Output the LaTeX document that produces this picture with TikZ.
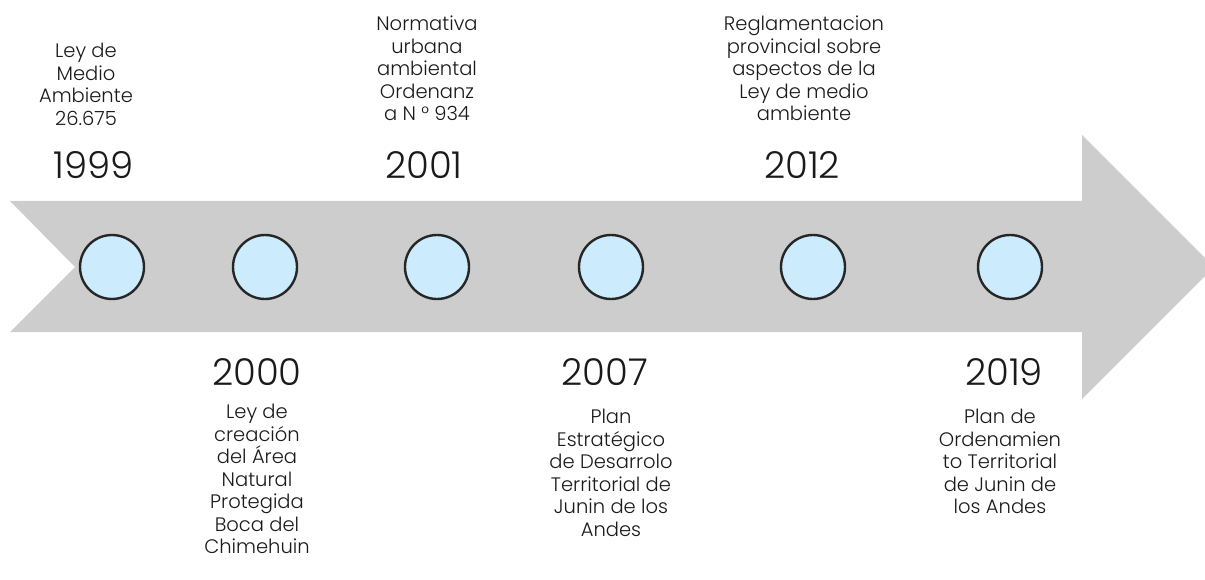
\documentclass[tikz,border=0pt]{standalone}
\usepackage{fontspec}
\setmainfont{Poppins Light}
\definecolor{arrowgray}{HTML}{CDCDCD}
\definecolor{dotfill}{HTML}{CCEBFD}
\definecolor{dotline}{HTML}{262626}
\definecolor{txt}{HTML}{1A1A1A}
\begin{document}
\begin{tikzpicture}[x=1pt,y=-1pt,
  dot/.style={circle,draw=dotline,fill=dotfill,line width=2.4pt,minimum size=64pt,inner sep=0pt},
  desc/.style={align=center,inner sep=0pt,text=txt,font=\fontsize{19.5}{22.5}\selectfont},
  year/.style={inner sep=0pt,text=txt,font=\fontsize{37}{40}\selectfont}]
\useasboundingbox (0,0) rectangle (1205,580);
\begin{scope}
\clip (0,0) rectangle (1205,580);
\fill[arrowgray] (10,201) -- (1082,201) -- (1082,135) -- (1214,267) -- (1082,399) -- (1082,332) -- (10,332) -- (75,267) -- cycle;
\end{scope}
\node[dot] (c1) at (112,267) {};
\node[dot] (c2) at (265,267) {};
\node[dot] (c3) at (437,267) {};
\node[dot] (c4) at (611,267) {};
\node[dot] (c5) at (813,267) {};
\node[dot] (c6) at (1010,267) {};
% top
\node[desc,anchor=north] (t1) at (86,43) {Ley de\\Medio\\Ambiente\\26.675};
\node[year] (y1) at (94,165) {1999};
\node[desc,anchor=north] (t3) at (427,16) {Normativa\\urbana\\ambiental\\Ordenanz\\a N ° 934};
\node[year] (y3) at (424,165) {2001};
\node[desc,anchor=north] (t5) at (804,16) {Reglamentacion\\provincial sobre\\aspectos de la\\Ley de medio\\ambiente};
\node[year] (y5) at (802,165) {2012};
% bottom
\node[year] (y2) at (257,372) {2000};
\node[desc,anchor=north] (t2) at (257,404) {Ley de\\creación\\del Área\\Natural\\Protegida\\Boca del\\Chimehuin};
\node[year] (y4) at (605,372) {2007};
\node[desc,anchor=north] (t4) at (611,409) {Plan\\Estratégico\\de Desarrolo\\Territorial de\\Junin de los\\Andes};
\node[year] (y6) at (1004,372) {2019};
\node[desc,anchor=north] (t6) at (1000,409) {Plan de\\Ordenamien\\to Territorial\\de Junin de\\los Andes};
\end{tikzpicture}
\end{document}
